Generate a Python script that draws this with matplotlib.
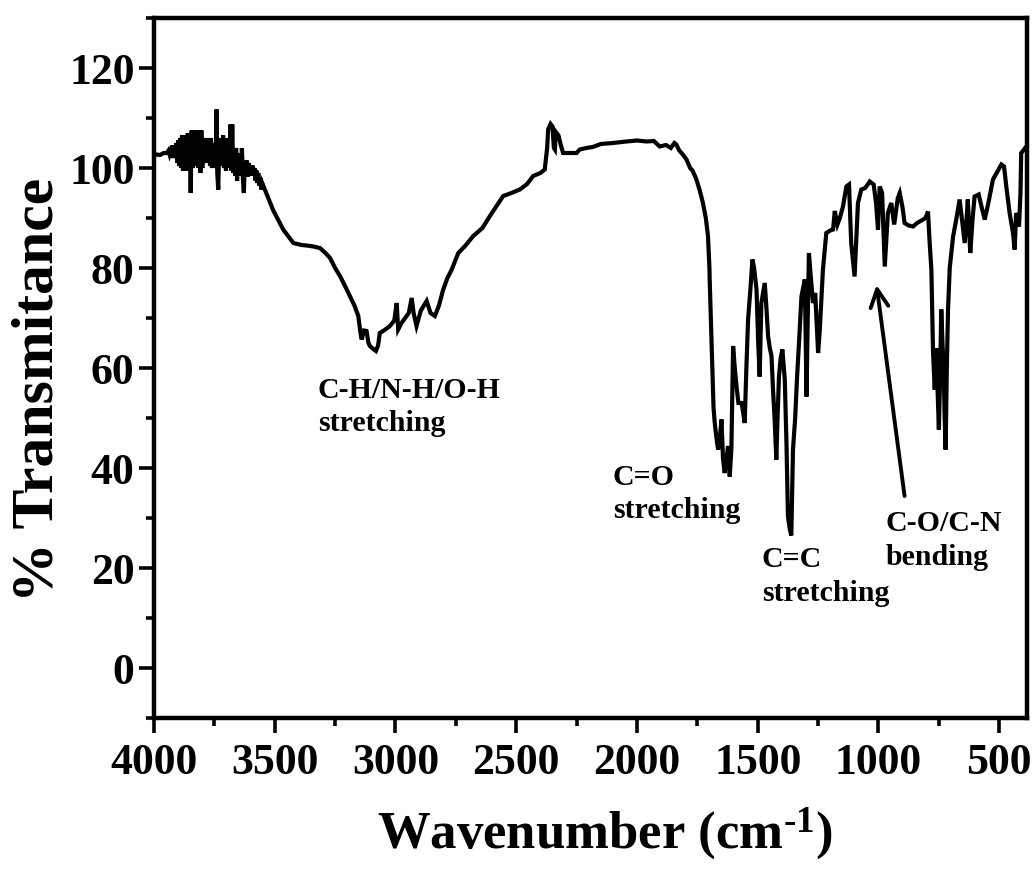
import matplotlib
matplotlib.use("Agg")
import matplotlib.pyplot as plt
from matplotlib.ticker import MultipleLocator

# ===== DATA =====
wavenumber = [
    4000, 3990, 3975, 3960, 3947, 3940, 3936,
    # noisy O-H / water-vapour region
    3932, 3928, 3924, 3920, 3916, 3912, 3908, 3904, 3900, 3896, 3892, 3888,
    3884, 3880, 3876, 3872, 3868, 3864, 3860, 3856, 3852, 3848, 3844, 3840,
    3836, 3832, 3828, 3824, 3820, 3816, 3812, 3808, 3804, 3800, 3796, 3792,
    3788, 3784, 3780, 3776, 3772, 3768, 3764, 3760, 3756, 3752, 3748, 3744,
    3741, 3738, 3734, 3730, 3726, 3722, 3718, 3714, 3710, 3706, 3702, 3698,
    3694, 3690, 3686, 3683, 3680, 3676, 3672, 3668, 3664, 3660, 3656, 3652,
    3648, 3644, 3640, 3636, 3632, 3628, 3624, 3620, 3616, 3612, 3608, 3604,
    3600, 3596, 3592, 3588, 3584, 3580, 3576, 3572, 3568, 3564, 3560, 3556,
    3552,
    # broad C-H/N-H/O-H band
    3506, 3465, 3423, 3390, 3368, 3340, 3313, 3290, 3271, 3250, 3230, 3210,
    3189, 3170, 3154, 3145, 3140, 3130, 3120, 3112, 3106, 3092, 3081, 3072,
    3065, 3045, 3023, 3005, 2995, 2989, 2975, 2954, 2945, 2933, 2925, 2913,
    2895, 2871, 2855, 2837, 2820, 2803, 2785, 2768, 2740, 2710, 2678, 2640,
    2609, 2580, 2554, 2520, 2485, 2455, 2430, 2400, 2382, 2372, 2368, 2358,
    2350, 2344, 2340, 2336, 2325, 2315, 2306, 2280, 2250, 2237, 2210, 2183,
    2150, 2100, 2044, 2000, 1960, 1930, 1906, 1880, 1860, 1845, 1837, 1825,
    1812, 1795, 1780, 1770, 1754, 1740, 1727, 1715, 1706, 1700, 1699, 1694,
    # fingerprint region
    1688, 1683, 1678, 1671, 1664, 1657, 1650, 1644, 1637, 1630, 1623, 1616,
    1609, 1602, 1595, 1588, 1580, 1567, 1560, 1554, 1547, 1540, 1530, 1522,
    1515, 1505, 1498, 1492, 1485, 1471, 1464, 1457, 1450, 1443, 1437, 1430,
    1423, 1418, 1412, 1405, 1398, 1388, 1381, 1375, 1368, 1361, 1354, 1345,
    1337, 1328, 1319, 1312, 1305, 1298, 1293, 1288, 1280, 1271, 1262, 1255,
    1250, 1243, 1236, 1230, 1216, 1200, 1188, 1181, 1170, 1160, 1147, 1140,
    1133, 1122, 1113, 1099, 1085, 1071, 1055, 1036, 1020, 1010, 1002, 995,
    985, 974, 961, 947, 935, 920, 912, 900, 892, 875, 857, 840, 816, 805,
    795, 788, 781, 774, 767, 761, 755, 750, 745, 740, 735, 730, 726, 722,
    717, 712, 705, 691, 678, 664, 655, 643, 635, 630, 620, 610, 602, 585,
    572, 560, 545, 526, 505, 491, 480, 470, 457, 450, 443, 436, 430, 425,
    418, 412, 409, 400, 393,
]

transmittance = [
    102.5, 102.7, 102.6, 103.0, 103.0, 103.5, 102.8,
    103.5, 102.0, 104.5, 102.5, 104.0, 102.0, 105.0, 101.0, 105.5, 100.5, 106.0, 100.0,
    106.5, 99.5, 106.0, 100.0, 106.5, 99.5, 107.0, 100.0, 106.0, 95.0, 107.5, 100.0,
    107.5, 100.5, 106.0, 101.0, 107.5, 100.0, 107.5, 99.0, 107.5, 100.0, 106.0, 101.0,
    105.5, 102.0, 106.0, 101.0, 105.5, 100.5, 106.0, 100.0, 105.0, 101.0, 104.5, 100.0,
    111.7, 99.0, 95.7, 104.0, 100.5, 106.0, 101.0, 106.5, 100.0, 105.0, 99.5, 106.0,
    100.0, 105.0, 101.0, 108.7, 99.5, 108.7, 99.0, 104.0, 98.5, 104.0, 97.4, 103.0,
    99.0, 102.5, 98.5, 104.0, 98.0, 95.0, 101.0, 98.5, 101.5, 98.3, 101.0, 98.5,
    100.5, 99.0, 100.5, 98.5, 100.0, 97.5, 99.5, 97.0, 99.0, 96.5, 98.0, 95.7,
    97.0,
    91.5, 87.7, 85.0, 84.6, 84.5, 84.3, 84.0, 83.0, 82.0, 80.0, 78.4, 76.5,
    74.4, 72.5, 70.4, 67.0, 65.7, 67.5, 67.4, 65.0, 64.4, 63.8, 63.4, 64.5,
    67.0, 67.6, 68.4, 69.5, 73.0, 67.7, 69.0, 70.4, 71.0, 74.0, 71.0, 68.4,
    71.5, 73.4, 71.0, 70.4, 72.5, 75.6, 78.0, 79.6, 83.0, 84.5, 86.4, 88.0,
    90.4, 92.5, 94.4, 95.0, 95.7, 96.8, 98.4, 99.0, 99.7, 104.0, 107.7, 108.8,
    108.3, 104.0, 103.7, 107.2, 106.5, 104.5, 103.0, 103.0, 103.0, 103.7, 104.0, 104.2,
    104.8, 105.0, 105.3, 105.5, 105.3, 105.4, 104.3, 104.6, 104.0, 105.0, 104.7, 103.5,
    102.8, 101.7, 100.0, 99.5, 97.7, 95.5, 93.0, 90.0, 86.4, 80.0, 77.7, 69.7,
    59.7, 52.0, 49.0, 46.0, 43.7, 46.0, 49.7, 42.0, 39.0, 41.5, 44.4, 38.3,
    44.0, 64.4, 60.0, 56.4, 53.0, 53.0, 51.0, 49.0, 60.0, 69.7, 76.0, 81.7,
    80.0, 75.7, 65.0, 58.3, 73.0, 77.0, 72.0, 66.3, 64.0, 62.4, 56.0, 49.7,
    41.7, 50.0, 58.3, 62.0, 63.7, 57.7, 45.0, 30.4, 28.0, 26.5, 43.7, 50.0,
    58.3, 66.0, 74.3, 76.0, 77.7, 54.3, 70.0, 83.0, 78.0, 73.0, 75.0, 68.0,
    63.0, 67.7, 74.0, 79.7, 87.0, 87.5, 87.7, 91.4, 88.7, 90.0, 92.3, 94.3,
    96.3, 96.7, 85.0, 78.3, 93.0, 95.7, 96.0, 97.3, 96.7, 93.0, 87.7, 96.3,
    95.0, 80.3, 91.0, 93.0, 88.7, 94.0, 95.0, 92.0, 89.0, 88.5, 88.3, 89.0, 89.7, 90.0,
    91.3, 85.0, 79.7, 63.0, 55.7, 64.0, 55.0, 47.7, 58.0, 71.7, 65.0, 60.0, 50.0, 43.7,
    60.0, 71.7, 80.0, 86.3, 89.7, 93.7, 90.0, 85.0, 90.0, 93.7, 83.0, 90.0, 94.3, 94.7,
    92.0, 89.7, 93.0, 97.7, 99.5, 100.7, 100.3, 96.0, 91.0, 89.0, 87.0, 83.7, 91.0, 90.0,
    88.3, 95.0, 103.0, 103.5, 104.0,
]

# band labels: text, wavenumber of left edge, centre transmittance
band_labels = ["C-H/N-H/O-H\nstretching", "C=O\nstretching",
               "C=C\nstretching", "C-O/C-N\nbending"]
band_label_x = [3321, 2100, 1483, 970]
band_label_y = [52.2, 34.8, 18.3, 25.5]

# arrow for the C-O/C-N band: tail -> head
arrow_tail = (892, 34.4)
arrow_head = (1008, 76.6)

x_ticks = [4000, 3500, 3000, 2500, 2000, 1500, 1000, 500]
y_ticks = [0, 20, 40, 60, 80, 100, 120]

# ===== STYLE =====
plt.rcParams["font.family"] = ["Liberation Serif", "DejaVu Serif"]
plt.rcParams["font.weight"] = "bold"
plt.rcParams["mathtext.fontset"] = "custom"
plt.rcParams["mathtext.rm"] = "Liberation Serif:bold"
plt.rcParams["mathtext.bf"] = "Liberation Serif:bold"
plt.rcParams["mathtext.it"] = "Liberation Serif:bold"

fig = plt.figure(figsize=(10.35, 8.72), dpi=100)
ax = fig.add_axes([154 / 1035, 1 - 718 / 872, (1027 - 154) / 1035, (718 - 18) / 872])

ax.plot(wavenumber, transmittance, color="black", lw=3.0, solid_joinstyle="miter")

ax.set_xlim(4000, 385)
ax.set_ylim(-10, 130)

ax.set_xticks(x_ticks)
ax.set_yticks(y_ticks)
ax.xaxis.set_minor_locator(MultipleLocator(250))
ax.yaxis.set_minor_locator(MultipleLocator(10))

for side in ["left", "right", "top", "bottom"]:
    ax.spines[side].set_linewidth(3.2)

ax.tick_params(which="major", direction="out", length=11, width=2.6, labelsize=31.5)
ax.tick_params(axis="x", which="major", pad=7)
ax.tick_params(axis="y", which="major", pad=3)
ax.tick_params(which="minor", direction="out", length=6, width=2.6)
for lab in ax.get_xticklabels() + ax.get_yticklabels():
    lab.set_fontweight("bold")

ax.set_xlabel(r"Wavenumber (cm$^{\text{-1}}$)", fontsize=38, fontweight="bold")
ax.xaxis.set_label_coords((605 - 154) / 873, -0.125)
ax.set_ylabel("% Transmitance", fontsize=43, fontweight="bold")
ax.yaxis.set_label_coords((66 - 154) / 873, (718 - 390) / 700)

for txt, bx, by in zip(band_labels, band_label_x, band_label_y):
    ax.text(bx, by, txt, fontsize=21.5, fontweight="bold", ha="left",
            va="center", linespacing=1.3)

ax.annotate("", xy=arrow_head, xytext=arrow_tail,
            arrowprops=dict(arrowstyle="->", lw=2.8, color="black",
                            mutation_scale=32, shrinkA=0, shrinkB=0))

fig.savefig("out.png", dpi=100)
plt.close(fig)
